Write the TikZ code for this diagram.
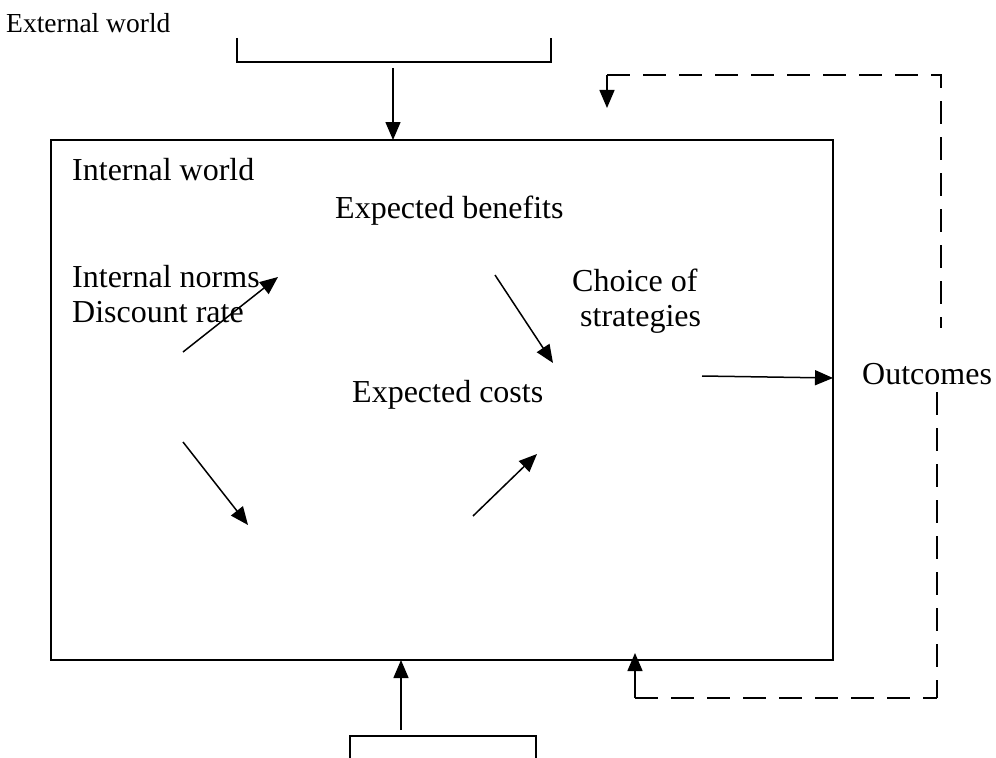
\documentclass[tikz,border=0pt]{standalone}
\usepackage{fontspec}
\setmainfont{Liberation Serif}
\usetikzlibrary{arrows.meta}
\begin{document}
\begin{tikzpicture}[x=1bp,y=-1bp,
  line/.style={line width=1.5bp},
  arr/.style={line width=1.5bp,-{Triangle[length=18bp,width=15bp]}},
  dsh/.style={line width=1.5bp,dash pattern=on 23bp off 13bp},
  lbl/.style={font=\fontsize{32bp}{38bp}\selectfont,inner sep=0pt,anchor=base west},
  small/.style={font=\fontsize{27.5bp}{33bp}\selectfont,inner sep=0pt,anchor=base west}]
\useasboundingbox (0,0) rectangle (996,758);
% main box
\node (box) [draw,line,minimum width=782bp,minimum height=520bp,inner sep=0pt,outer sep=0pt,anchor=north west] at (51,140) {};
% texts
\node (ext) [small] at (6,33) {External world};
\node (intw) [lbl] at (72,180) {Internal world};
\node (benef) [lbl] at (335,218) {Expected benefits};
\node (norms) [lbl] at (72,287) {Internal norms};
\node (disc) [lbl] at (72,322) {Discount rate};
\node (choice) [lbl] at (572,291) {Choice of};
\node (strat) [lbl] at (580,326) {strategies};
\node (costs) [lbl] at (352,402) {Expected costs};
\node (outc) [lbl] at (862,384) {Outcomes};
% brackets
\coordinate (tbl) at (237,38); \coordinate (tbr) at (551,38);
\draw[line] (tbl) -- (237,62) -- (551,62) -- (tbr);
\coordinate (bbl) at (350,758); \coordinate (bbr) at (536,758);
\draw[line] (bbl) -- (350,736) -- (536,736) -- (bbr);
% vertical arrows into box
\coordinate (ta0) at (393,68); \coordinate (ta1) at (393,140);
\draw[arr] (ta0) -- (ta1);
\coordinate (ba0) at (401,730); \coordinate (ba1) at (401,660);
\draw[arr] (ba0) -- (ba1);
% inner arrows
\coordinate (a1s) at (183,352); \coordinate (a1e) at (278,277);
\draw[arr] (a1s) -- (a1e);
\coordinate (a2s) at (495,275); \coordinate (a2e) at (553,363);
\draw[arr] (a2s) -- (a2e);
\coordinate (a3s) at (183,442); \coordinate (a3e) at (248,525);
\draw[arr] (a3s) -- (a3e);
\coordinate (a4s) at (473,516); \coordinate (a4e) at (537,454);
\draw[arr] (a4s) -- (a4e);
\coordinate (a5s) at (702,376); \coordinate (a5e) at (833,378);
\draw[arr] (a5s) -- (a5e);
% feedback loops
\coordinate (f1s) at (941,328); \coordinate (f1c) at (607,75); \coordinate (f1e) at (607,108);
\draw[dsh] (f1c) -- (941,75) -- (f1s);
\draw[arr] (f1c) -- (f1e);
\coordinate (f2s) at (937,392); \coordinate (f2c) at (635,698); \coordinate (f2e) at (635,653);
\draw[dsh] (f2s) -- (937,698);
\draw[dsh] (f2c) -- (937,698);
\draw[arr] (f2c) -- (f2e);
\end{tikzpicture}
\end{document}
